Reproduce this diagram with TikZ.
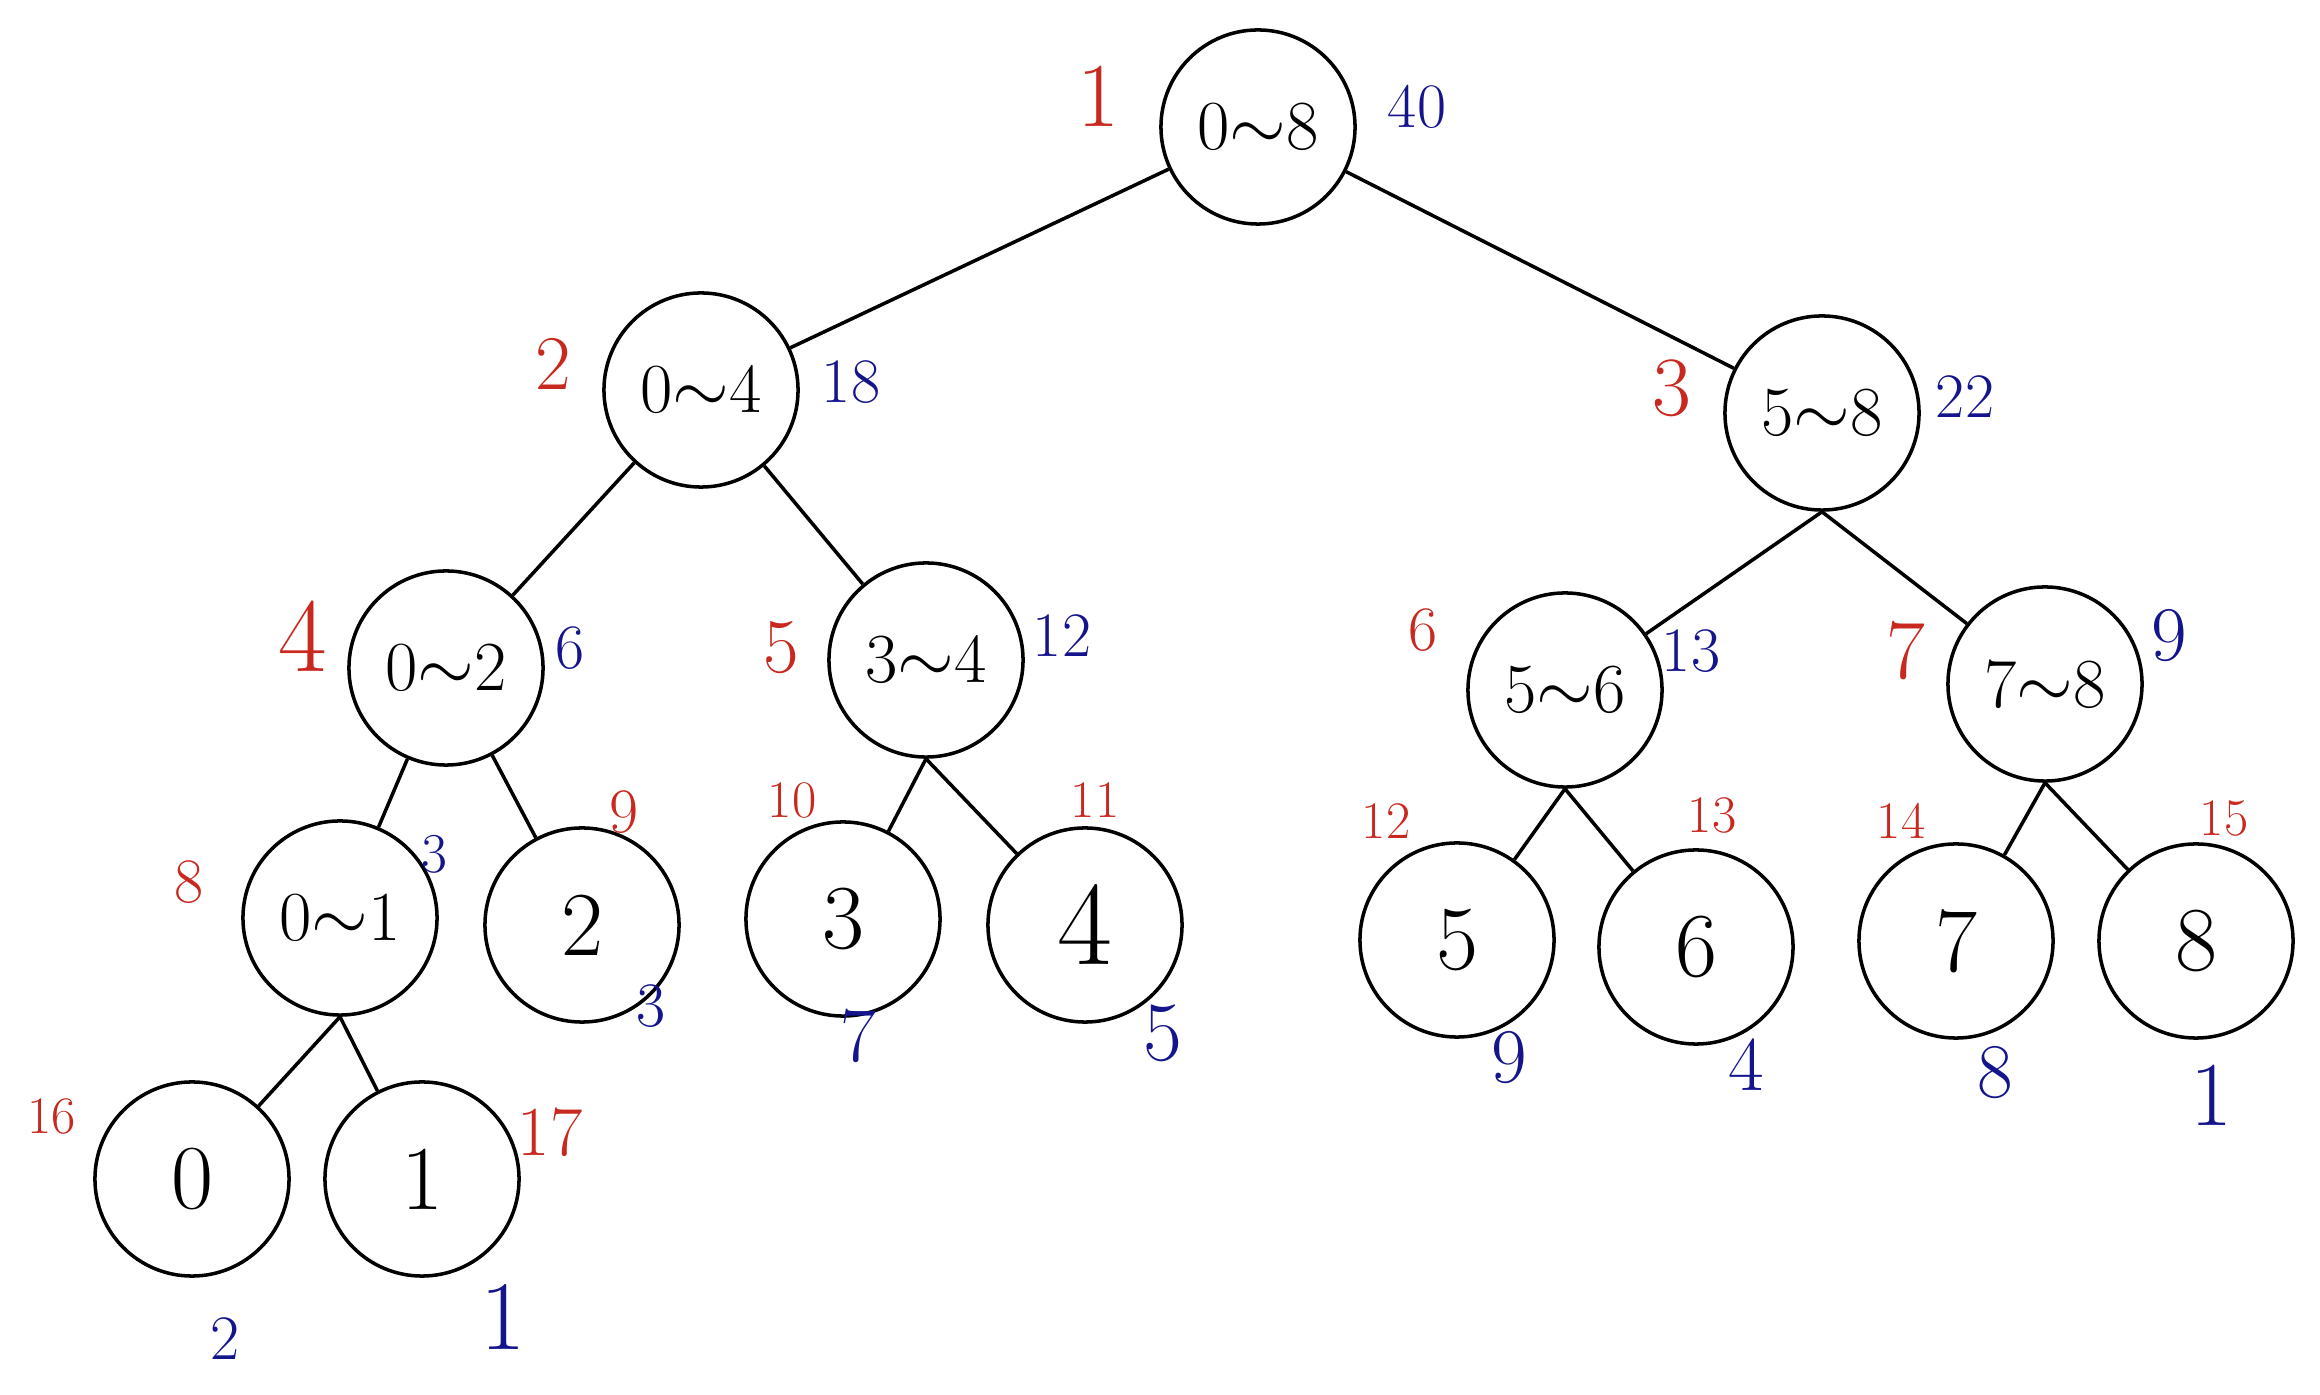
\documentclass[tikz,border=0pt]{standalone}
\usetikzlibrary{positioning}

\definecolor{idxred}{RGB}{200,40,30}
\definecolor{sumblue}{RGB}{20,20,140}

\tikzset{
    seg/.style={draw, circle, line width=1pt, minimum size=1.94cm, inner sep=0pt, font=\fontsize{20}{22}\selectfont},
    leaf/.style={seg, font=\fontsize{26}{28}\selectfont},
    idx/.style={text=idxred, inner sep=0pt, font=\fontsize{18}{20}\selectfont},
    sumv/.style={text=sumblue, inner sep=0pt, font=\fontsize{18}{20}\selectfont},
    link/.style={line width=1pt}
}

\begin{document}
\begin{tikzpicture}[x=0.01cm, y=-0.01cm]
    \useasboundingbox (0,0) rectangle (2320,1395);

    % root
    \node[seg] (n1) at (1258,127) {0$\sim$8};
    \node[idx, font=\fontsize{26}{28}\selectfont] (i1) at (1098,96) {1};
    \node[sumv] (s1) at (1417,107) {40};

    % level 2
    \node[seg] (n2) at (701,390) {0$\sim$4};
    \node[idx, font=\fontsize{22}{24}\selectfont] (i2) at (553,364) {2};
    \node[sumv] (s2) at (851,382) {18};
    \node[seg] (n3) at (1822,413) {5$\sim$8};
    \node[idx, font=\fontsize{24}{26}\selectfont] (i3) at (1672,388) {3};
    \node[sumv] (s3) at (1965,397) {22};
    \draw[link] (n1) -- (n2);
    \draw[link] (n1) -- (n3);

    % level 3
    \node[seg] (n4) at (446,668) {0$\sim$2};
    \node[idx, font=\fontsize{30}{32}\selectfont] (i4) at (303,636) {4};
    \node[sumv] (s4) at (570,648) {6};
    \node[seg] (n5) at (926,660) {3$\sim$4};
    \node[idx, font=\fontsize{22}{24}\selectfont] (i5) at (781,648) {5};
    \node[sumv] (s5) at (1062,636) {12};
    \node[seg] (n6) at (1565,690) {5$\sim$6};
    \node[idx] (i6) at (1423,630) {6};
    \node[sumv] (s6) at (1691,651) {13};
    \node[seg] (n7) at (2045,684) {7$\sim$8};
    \node[idx, font=\fontsize{24}{26}\selectfont] (i7) at (1906,651) {7};
    \node[sumv, font=\fontsize{22}{24}\selectfont] (s7) at (2169,636) {9};
    \draw[link] (n2) -- (n4);
    \draw[link] (n2) -- (n5);
    \draw[link] (n3.south) -- (n6);
    \draw[link] (n3.south) -- (n7);

    % level 4
    \node[seg] (n8) at (340,918) {0$\sim$1};
    \node[idx] (i8) at (189,882) {8};
    \node[sumv, font=\fontsize{16}{18}\selectfont] (s8) at (434,854) {3};
    \node[leaf] (n9) at (582,925) {2};
    \node[idx] (i9) at (624,812) {9};
    \node[sumv] (s9) at (651,1006) {3};
    \node[leaf] (n10) at (843,919) {3};
    \node[idx, font=\fontsize{15}{17}\selectfont] (i10) at (792,800) {10};
    \node[sumv, font=\fontsize{22}{24}\selectfont] (s10) at (858,1036) {7};
    \node[leaf, font=\fontsize{34}{36}\selectfont] (n11) at (1085,925) {4};
    \node[idx, font=\fontsize{15}{17}\selectfont] (i11) at (1095,800) {11};
    \node[sumv, font=\fontsize{24}{26}\selectfont] (s11) at (1163,1033) {5};
    \node[leaf] (n12) at (1457,940) {5};
    \node[idx, font=\fontsize{15}{17}\selectfont] (i12) at (1386,821) {12};
    \node[sumv, font=\fontsize{22}{24}\selectfont] (s12) at (1509,1058) {9};
    \node[leaf] (n13) at (1696,947) {6};
    \node[idx, font=\fontsize{15}{17}\selectfont] (i13) at (1712,815) {13};
    \node[sumv, font=\fontsize{22}{24}\selectfont] (s13) at (1746,1065) {4};
    \node[leaf] (n14) at (1956,941) {7};
    \node[idx, font=\fontsize{15}{17}\selectfont] (i14) at (1901,821) {14};
    \node[sumv, font=\fontsize{22}{24}\selectfont] (s14) at (1995,1073) {8};
    \node[leaf] (n15) at (2196,941) {8};
    \node[idx, font=\fontsize{15}{17}\selectfont] (i15) at (2224,818) {15};
    \node[sumv, font=\fontsize{26}{28}\selectfont] (s15) at (2211,1095) {1};
    \draw[link] (n4) -- (n8);
    \draw[link] (n4) -- (n9);
    \draw[link] (n5.south) -- (n10);
    \draw[link] (n5.south) -- (n11);
    \draw[link] (n6.south) -- (n12);
    \draw[link] (n6.south) -- (n13);
    \draw[link] (n7.south) -- (n14);
    \draw[link] (n7.south) -- (n15);

    % level 5
    \node[leaf] (n16) at (192,1179) {0};
    \node[idx, font=\fontsize{15}{17}\selectfont] (i16) at (52,1116) {16};
    \node[sumv] (s16) at (225,1339) {2};
    \node[leaf] (n17) at (422,1179) {1};
    \node[idx, font=\fontsize{20}{22}\selectfont] (i17) at (550,1132) {17};
    \node[sumv, font=\fontsize{28}{30}\selectfont] (s17) at (503,1317) {1};
    \draw[link] (n8.south) -- (n16);
    \draw[link] (n8.south) -- (n17);

\end{tikzpicture}
\end{document}
